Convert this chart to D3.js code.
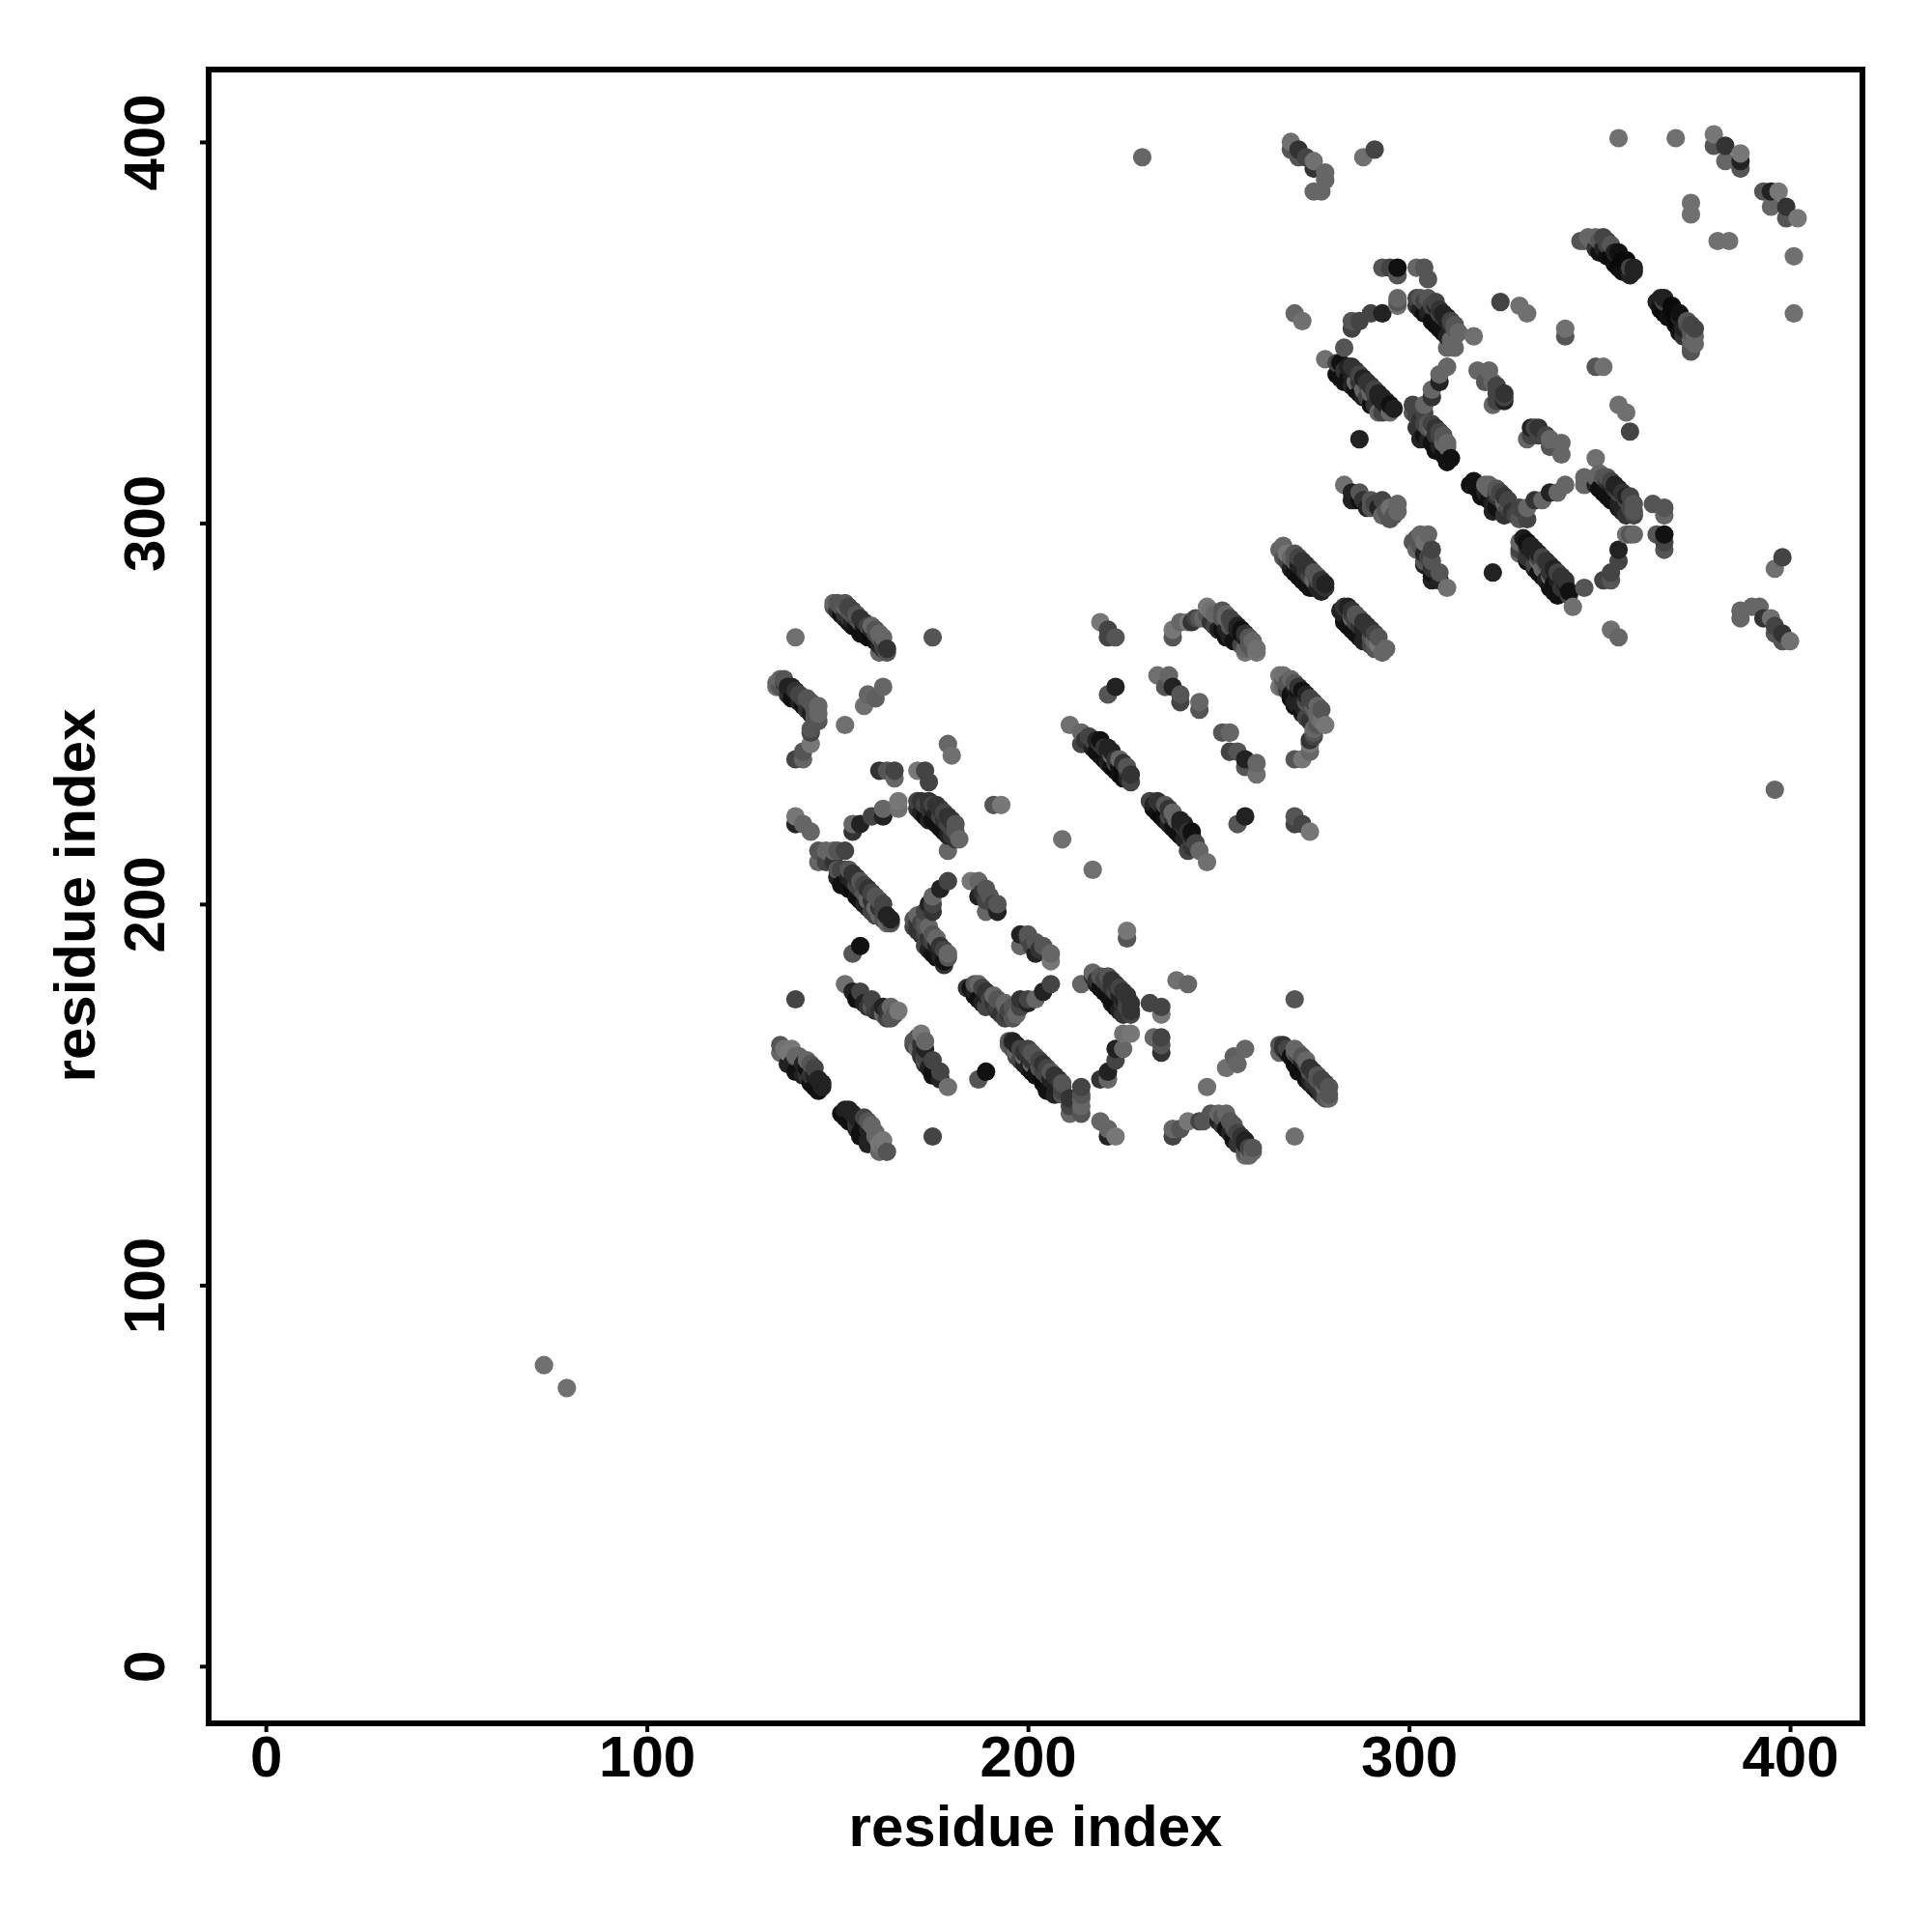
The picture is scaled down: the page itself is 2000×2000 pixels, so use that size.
<!DOCTYPE html>
<html><head><meta charset="utf-8">
<script src="https://cdn.jsdelivr.net/npm/d3@7"></script>
<style>html,body{margin:0;background:#fff}svg{display:block}text{font-family:"Liberation Sans",Arial,sans-serif;font-weight:bold;fill:#000}</style>
</head><body><div id="c"></div>
<script>
const xTicks=[0,100,200,300,400], yTicks=[0,100,200,300,400];
const axisTitle="residue index";
// contacts: [residue i, residue j, gray level]; the map holds each pair at (i,j) and (j,i)
const farPair=[[73,79,112]];
const sheetA=[[149,279,102],[149,278,85],[150,279,85],[150,277,51],[151,278,85],[151,276,17],[152,279,85],[152,278,102],[152,276,51],[152,275,34],[153,278,68],[153,277,85],[153,275,51],[153,274,17],[154,277,68],[154,276,85],[154,274,34],[154,273,17],[155,276,85],[155,275,68],[155,273,17],[156,275,51],[156,274,85],[156,272,17],[156,271,17],[157,274,51],[157,273,17],[157,271,17],[158,273,68],[158,272,10],[158,270,17],[159,273,102],[159,272,34],[159,270,10],[160,272,85],[160,271,68],[160,269,17],[161,271,102],[161,270,85],[161,268,34],[161,266,102],[162,270,102],[162,268,68],[162,267,51],[163,266,85],[163,267,51]];
const lonelyA=[[139,270,112],[175,270,85],[139,175,68],[154,187,85],[156,189,17],[209,217,112],[287,322,34],[230,396,102]];
const sheetC=[[134,258,102],[134,257,112],[135,259,102],[135,257,85],[136,259,85],[136,258,68],[137,257,34],[137,255,51],[138,257,34],[138,254,17],[139,256,51],[139,254,17],[139,238,68],[140,255,68],[140,253,34],[141,254,68],[141,252,17],[141,240,85],[141,238,102],[142,254,85],[142,251,51],[143,253,85],[143,250,34],[143,246,85],[143,245,68],[143,242,119],[144,251,85],[144,249,85],[145,252,102],[145,250,102],[145,248,85]];
const armD=[[162,257,102],[160,254,95],[158,255,102],[157,252,112],[152,247,112],[179,242,102],[180,239,112]];
const patchF=[[161,235,51],[163,235,85],[165,235,68],[165,233,102],[171,235,119],[173,235,68],[174,232,68]];
const arcG=[[154,219,51],[154,221,102],[156,221,34],[159,223,68],[162,223,34],[162,225,102],[166,225,112],[166,227,119]];
const sheetH=[[171,227,68],[171,225,51],[172,227,51],[172,224,34],[173,226,68],[173,223,17],[174,227,51],[174,225,51],[174,222,34],[175,226,68],[175,225,34],[175,222,17],[176,226,51],[176,224,34],[176,221,17],[177,225,51],[177,223,68],[177,220,17],[178,224,68],[178,222,51],[178,219,17],[179,223,51],[179,221,68],[179,218,34],[179,214,102],[180,222,51],[180,220,68],[180,218,51],[181,221,85],[181,219,85],[181,217,51],[182,217,102]];
const patchI=[[139,223,119],[139,221,34],[141,221,102],[143,219,102],[145,214,85],[145,211,102],[147,214,102],[147,211,68],[149,214,102],[149,211,51],[150,214,85],[152,214,68]];
const sheetK=[[150,209,85],[150,207,34],[151,209,68],[151,205,17],[152,209,68],[152,206,17],[153,209,85],[153,207,34],[153,204,17],[154,208,51],[154,206,34],[154,204,10],[155,207,51],[155,205,68],[155,202,17],[156,206,85],[156,204,68],[156,201,17],[157,205,68],[157,203,85],[157,200,34],[158,204,51],[158,201,102],[158,199,34],[159,203,68],[159,201,51],[159,198,68],[160,202,85],[160,199,102],[160,197,68],[161,201,85],[161,199,51],[161,197,102],[162,200,68],[162,198,68],[162,196,85],[163,197,34],[163,195,102],[164,195,85],[164,196,34]];
const armL=[[179,206,68],[177,204,34],[175,202,102],[175,200,68],[175,198,51],[174,200,34],[173,198,68],[173,196,85]];
const sheetM=[[170,196,85],[170,194,68],[171,197,102],[171,195,51],[171,193,51],[172,195,68],[172,192,51],[173,194,85],[173,192,68],[173,189,68],[174,194,102],[174,191,51],[174,188,34],[175,192,85],[175,190,68],[175,187,17],[176,191,102],[176,189,34],[176,186,17],[177,189,51],[177,186,34],[178,188,68],[178,185,17],[178,184,51],[179,187,102],[179,186,85]];
const patchN=[[185,206,119],[187,206,102],[187,202,34],[188,203,51],[189,204,85],[189,201,68],[189,198,102],[190,202,85],[191,200,68],[192,198,34],[192,200,85],[191,226,85],[193,226,119]];
const sheetQ=[[211,247,112],[214,245,102],[214,242,68],[215,243,51],[216,244,68],[217,243,68],[217,241,34],[218,243,34],[218,240,17],[219,243,17],[219,242,51],[219,239,17],[220,241,51],[220,238,17],[221,241,34],[221,240,34],[221,237,34],[222,240,34],[222,239,102],[222,236,17],[223,238,51],[223,237,68],[223,235,10],[224,238,102],[224,236,17],[224,234,17],[225,237,51],[225,236,10],[225,233,10],[226,236,85],[226,235,51],[226,233,34],[227,232,68],[227,234,51]];
const sheetW=[[135,163,85],[135,161,102],[136,162,112],[137,161,119],[137,158,34],[138,162,119],[138,158,34],[139,160,102],[139,156,17],[140,160,102],[140,156,17],[141,158,34],[141,155,34],[142,159,102],[142,157,17],[142,155,51],[143,158,85],[143,155,51],[143,153,17],[144,157,68],[144,155,34],[144,152,17],[145,154,34],[145,151,17],[146,153,34],[146,152,34]];
const sheetV=[[152,179,112],[154,177,34],[155,175,17],[156,177,68],[156,175,17],[157,174,34],[158,173,51],[159,175,68],[159,173,85],[160,173,68],[160,172,51],[161,172,51],[162,173,34],[162,171,102],[163,172,51],[163,170,68],[164,173,102],[164,170,85],[165,171,85],[166,172,119]];
const sheetAB=[[238,270,85],[238,272,119],[240,274,102],[242,274,119],[243,274,51],[244,275,68],[245,275,85],[246,275,102],[247,278,119],[247,276,85],[248,277,112],[248,274,51],[249,276,102],[249,273,68],[250,276,102],[250,272,34],[251,277,85],[251,275,85],[251,272,17],[252,276,102],[252,275,102],[252,272,34],[252,270,17],[253,275,68],[253,273,85],[253,270,34],[254,274,68],[254,273,68],[254,269,17],[255,273,34],[255,272,34],[255,269,17],[256,272,17],[256,271,17],[256,268,68],[257,271,51],[257,270,34],[257,267,102],[257,266,119],[258,270,85],[258,268,85],[259,269,102],[259,267,85],[260,266,119],[260,267,112]];
const patchAC=[[219,274,119],[221,272,68],[221,270,68],[223,270,85],[223,257,34],[221,255,85],[234,260,112],[237,260,102],[236,257,85],[238,257,34],[240,255,85],[240,253,68],[245,253,102],[245,251,85]];
const patchF2=[[293,367,85],[295,367,68],[297,367,17],[297,365,85],[302,367,102],[304,367,85],[305,364,85]];
const arcG2=[[285,353,85],[285,351,68],[287,353,68],[290,355,68],[293,355,34],[297,357,112],[297,358,85],[297,359,102]];
const sheetH2=[[302,359,68],[302,357,51],[303,359,85],[303,356,34],[304,358,68],[304,355,17],[305,359,85],[305,355,34],[306,357,68],[306,353,17],[307,358,68],[307,357,34],[307,352,17],[308,356,51],[308,355,68],[308,351,17],[309,355,34],[309,354,51],[309,350,17],[310,354,34],[310,353,34],[310,349,34],[310,346,102],[311,353,68],[311,352,51],[311,348,102],[312,352,85],[312,351,85],[312,349,102],[312,346,102],[313,350,102],[317,349,112]];
const lonelyB=[[270,355,102],[272,353,112],[283,346,85],[278,343,112],[324,358,68],[329,357,112],[331,355,112],[341,351,112],[341,349,85],[374,384,112],[374,381,112],[355,401,112],[370,401,112]];
const sheetH3=[[281,342,68],[281,339,17],[282,342,17],[282,338,17],[283,340,51],[283,337,17],[284,341,34],[284,338,17],[285,341,51],[285,339,34],[285,336,34],[286,340,51],[286,337,102],[286,335,17],[287,339,68],[287,337,51],[287,334,17],[288,338,34],[288,335,102],[288,333,34],[289,337,51],[289,336,85],[289,333,68],[290,336,51],[290,334,102],[290,331,17],[291,335,68],[291,334,68],[291,331,51],[292,334,34],[292,333,34],[292,329,102],[293,333,34],[293,332,34],[293,329,68],[294,332,34],[294,331,34],[295,331,17],[295,329,102],[296,330,30]];
const arcL2=[[310,341,102],[308,339,102],[308,337,34],[306,335,102],[306,333,51],[304,331,102],[304,329,68],[301,329,85],[301,331,68]];
const sheetM2=[[302,328,68],[302,325,51],[303,327,51],[303,322,34],[304,326,68],[304,323,17],[305,326,85],[305,325,85],[305,322,34],[306,326,68],[306,325,102],[306,321,17],[307,325,51],[307,323,51],[307,319,17],[308,324,68],[308,323,68],[308,320,34],[309,323,85],[309,321,102],[309,318,17],[310,321,102],[310,320,102],[310,316,17],[311,317,17]];
const patchP2=[[318,340,102],[321,340,102],[320,337,85],[322,337,102],[322,331,102],[323,336,68],[323,334,68],[323,332,68],[325,334,51],[325,333,68],[325,332,34]];
const sheetS2=[[283,310,112],[285,308,34],[285,306,34],[286,306,34],[287,308,85],[287,306,17],[288,306,51],[289,304,34],[290,306,85],[290,304,85],[291,305,68],[292,304,34],[293,306,68],[293,302,102],[294,303,85],[295,304,112],[295,301,85],[296,302,85],[297,303,102],[297,305,102]];
const sheetW2=[[266,293,102],[267,294,102],[267,291,85],[268,292,119],[268,290,68],[269,291,102],[269,288,34],[270,292,85],[270,290,85],[270,287,17],[271,291,68],[271,289,34],[271,286,17],[272,290,51],[272,288,34],[272,285,17],[273,289,51],[273,287,51],[273,284,17],[274,288,51],[274,286,68],[274,283,17],[275,287,85],[275,285,102],[275,283,17],[276,286,85],[276,285,68],[276,283,34],[277,285,51],[277,284,51],[277,282,34],[278,284,34],[278,283,51]];
const sheetT2=[[345,374,85],[346,374,85],[347,375,102],[348,374,102],[349,375,102],[349,372,51],[350,374,85],[350,371,17],[351,375,68],[351,372,34],[352,374,68],[352,373,68],[352,370,17],[353,373,85],[353,370,10],[354,371,34],[354,368,17],[355,371,17],[355,367,10],[356,369,10],[356,366,17],[357,369,10],[357,366,17],[358,367,68],[358,365,34],[359,367,34],[359,366,34]];
const cornerZ=[[380,402,119],[380,399,85],[383,399,51],[383,395,102],[387,397,119],[387,395,34],[387,393,85]];
const tipY=[[269,400,112],[269,398,85],[271,398,51],[271,396,85],[273,396,68],[275,395,112],[275,393,51],[278,392,102],[278,390,102],[275,387,102],[277,387,102],[288,396,112],[291,398,68]];

const contacts=[].concat(farPair,sheetA,lonelyA,sheetC,armD,patchF,arcG,sheetH,patchI,sheetK,armL,sheetM,patchN,sheetQ,sheetW,sheetV,sheetAB,patchAC,patchF2,arcG2,sheetH2,lonelyB,sheetH3,arcL2,sheetM2,patchP2,sheetS2,sheetW2,sheetT2,cornerZ,tipY);
const points=contacts.flatMap(([i,j,g])=>[{x:i,y:j,g},{x:j,y:i,g}]).sort((a,b)=>a.x-b.x||a.y-b.y);

const L=216,R=1928,T=72,B=1784;
const x=d3.scaleLinear().domain([-15,419]).range([L,R]);
const y=d3.scaleLinear().domain([-15,419]).range([B,T]);
const svg=d3.select("#c").append("svg").attr("width",2000).attr("height",2000);
svg.append("rect").attr("width",2000).attr("height",2000).attr("fill","#fff");

svg.append("g").selectAll("circle").data(points).join("circle")
  .attr("cx",d=>x(d.x)).attr("cy",d=>y(d.y)).attr("r",9.6)
  .attr("fill",d=>d3.rgb(d.g,d.g,d.g));

svg.append("rect").attr("x",L).attr("y",T).attr("width",R-L).attr("height",B-T)
  .attr("fill","none").attr("stroke","#000").attr("stroke-width",6);

const gx=svg.append("g").attr("transform",`translate(0,${B})`).call(d3.axisBottom(x).tickValues(xTicks).tickSize(9));
gx.select(".domain").remove();
gx.selectAll(".tick line").attr("stroke","#000").attr("stroke-width",4);
gx.selectAll(".tick text").attr("y",55).attr("dy",0).style("font-size","60px").attr("text-anchor","middle");

const gy=svg.append("g").attr("transform",`translate(${L},0)`).call(d3.axisLeft(y).tickValues(yTicks).tickSize(9));
gy.select(".domain").remove();
gy.selectAll(".tick line").attr("stroke","#000").attr("stroke-width",4);
gy.selectAll(".tick text").attr("x",null).attr("y",null).attr("dy",0).attr("transform","translate(-46,0) rotate(-90)").attr("text-anchor","middle").style("font-size","60px");

svg.append("text").attr("x",1072).attr("y",1911).attr("text-anchor","middle").style("font-size","60px").text(axisTitle);
svg.append("text").attr("transform","translate(98,927) rotate(-90)").attr("text-anchor","middle").style("font-size","60px").text(axisTitle);
</script></body></html>
